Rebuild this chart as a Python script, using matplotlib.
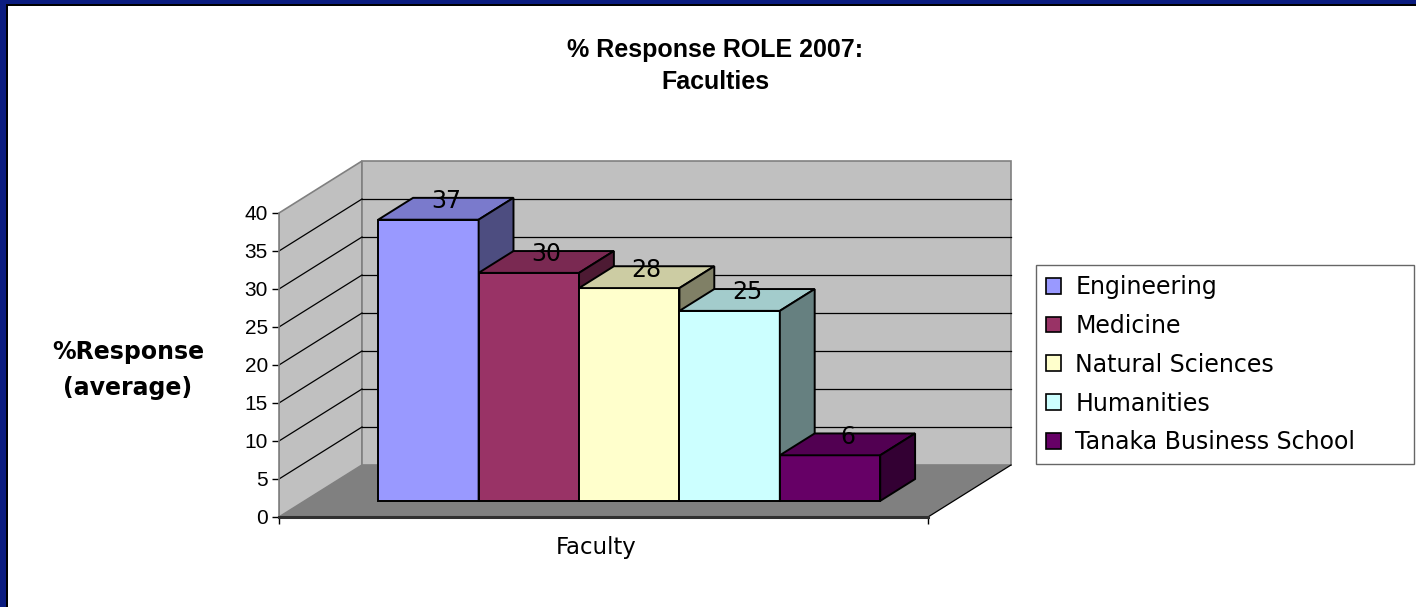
import numpy as np
import matplotlib
matplotlib.use("Agg")
from matplotlib import pyplot as plt
from matplotlib.patches import Polygon, Patch, Rectangle

# data
faculties = ["Engineering", "Medicine", "Natural Sciences", "Humanities", "Tanaka Business School"]
responses = [37, 30, 28, 25, 6]
front_cols = ["#9999FF", "#993366", "#FFFFCC", "#CCFFFF", "#660066"]
y_ticks = [0, 5, 10, 15, 20, 25, 30, 35, 40]

plt.rcParams['font.family'] = ['Liberation Sans', 'DejaVu Sans']
wide = ['DejaVu Sans']   # the reference text is drawn wide


def shade(hexcol, f):
    c = np.array(matplotlib.colors.to_rgb(hexcol)) * f
    return tuple(c)


W, H = 1416, 607
fig = plt.figure(figsize=(W / 100, H / 100), dpi=100)
fig.patch.set_facecolor("white")

# pixel scale of the chart
px_x = 100.4   # px per bar width
px_v = 7.6     # px per percentage point
ox_px, oy_px = 279, 517
xmax, vmax = 7.4, 47.5
ax = fig.add_axes([ox_px / W, (H - oy_px) / H, xmax * px_x / W, vmax * px_v / H])
ax.set_xlim(0, xmax)
ax.set_ylim(0, vmax)
ax.patch.set_visible(False)

# 3d depth (whole floor) in data units
DX = 83 / px_x
DV = 52 / px_v
floor_w = 649 / px_x
top = y_ticks[-1]

wall_c = "#C0C0C0"
edge_c = "#808080"
# left wall
ax.add_patch(Polygon([(0, 0), (0, top), (DX, top + DV), (DX, DV)], closed=True,
                     fc=wall_c, ec=edge_c, lw=1.2, zorder=1))
# back wall
ax.add_patch(Polygon([(DX, DV), (DX + floor_w, DV), (DX + floor_w, top + DV), (DX, top + DV)],
                     closed=True, fc=wall_c, ec=edge_c, lw=1.2, zorder=1))
# gridlines
for k in y_ticks[1:-1]:
    ax.plot([0, DX], [k, k + DV], color="black", lw=0.9, zorder=2)
    ax.plot([DX, DX + floor_w], [k + DV, k + DV], color="black", lw=0.9, zorder=2)
# floor
ax.add_patch(Polygon([(0, 0), (floor_w, 0), (floor_w + DX, DV), (DX, DV)], closed=True,
                     fc="#808080", ec="none", zorder=3))
ax.plot([floor_w, floor_w + DX], [0, DV], color="black", lw=0.9, zorder=3)

# bars
f_front, f_depth = 0.31, 0.42
ox, ov = f_front * DX, f_front * DV
bx, bv = f_depth * DX, f_depth * DV
gap = (floor_w - len(responses)) / 2
for i, (h, col) in enumerate(zip(responses, front_cols)):
    x0 = gap + i + ox
    x1 = x0 + 1
    front = [(x0, ov), (x1, ov), (x1, ov + h), (x0, ov + h)]
    topf = [(x0, ov + h), (x1, ov + h), (x1 + bx, ov + h + bv), (x0 + bx, ov + h + bv)]
    side = [(x1, ov), (x1 + bx, ov + bv), (x1 + bx, ov + bv + h), (x1, ov + h)]
    z = 5 + i
    ax.add_patch(Polygon(front, closed=True, fc=col, ec="black", lw=1.4, zorder=z))
    ax.add_patch(Polygon(topf, closed=True, fc=shade(col, 0.8), ec="black", lw=1.4, zorder=z))
    ax.add_patch(Polygon(side, closed=True, fc=shade(col, 0.5), ec="black", lw=1.4, zorder=z))
    ax.annotate(str(h), (x0 + 0.5 + bx / 2, ov + h + bv), xytext=(0, -7.5),
                textcoords="offset points", ha="center", va="baseline",
                fontsize=17, family=wide, color="black", zorder=20)

# axes / ticks
for s in ["top", "right"]:
    ax.spines[s].set_visible(False)
ax.spines["left"].set_bounds(0, top)
ax.spines["left"].set_color(edge_c)
ax.spines["left"].set_linewidth(1.2)
ax.spines["left"].set_zorder(4)
ax.spines["bottom"].set_bounds(0, floor_w)
ax.spines["bottom"].set_color("#303030")
ax.spines["bottom"].set_linewidth(2.2)
ax.spines["bottom"].set_zorder(4)
ax.set_yticks(y_ticks)
ax.tick_params(axis="y", direction="out", length=5, width=1, color="black",
               labelsize=15, pad=3)
ax.set_xticks([0, floor_w])
ax.set_xticklabels(["", ""])
ax.set_xticks([floor_w / 2 - 7 / px_x], ["Faculty"], minor=True)
ax.tick_params(axis="x", which="major", direction="out", length=5, width=1, color="black")
ax.tick_params(axis="x", which="minor", length=0, labelsize=16.5, pad=14)
for t in ax.get_xticklabels(minor=True):
    t.set_family(wide)

fig.text(128 / W, 1 - 370 / H, "%Response\n(average)", ha="center", va="center",
         fontsize=17, fontweight="bold", family=wide, linespacing=1.6)
fig.text(715 / W, 1 - 66 / H, "% Response ROLE 2007:\nFaculties", ha="center", va="center",
         fontsize=18, fontweight="bold", linespacing=1.45)

handles = [Patch(fc=c, ec="black", lw=1.2) for c in front_cols]
leg = fig.legend(handles, faculties, loc="upper left", mode="expand",
                 bbox_to_anchor=(1036 / W, 1 - 460 / H, 378 / W, 195 / H),
                 prop={"family": wide, "size": 17},
                 frameon=True, fancybox=False, edgecolor="#404040",
                 handlelength=0.65, handleheight=0.65, handletextpad=0.6,
                 labelspacing=0.63, borderpad=0.42, borderaxespad=0)
leg.get_frame().set_linewidth(1.0)

# blue frame on top / left edges
fig.patches.append(Rectangle((0, 1 - 4 / H), 1, 4 / H, transform=fig.transFigure,
                             fc="#0B1C80", ec="none", zorder=30))
fig.patches.append(Rectangle((0, 1 - 6 / H), 1, 2 / H, transform=fig.transFigure,
                             fc="black", ec="none", zorder=30))
fig.patches.append(Rectangle((0, 0), 6 / W, 1, transform=fig.transFigure,
                             fc="#0B1C80", ec="none", zorder=31))
fig.patches.append(Rectangle((6 / W, 0), 2 / W, 1 - 4 / H, transform=fig.transFigure,
                             fc="black", ec="none", zorder=31))

fig.savefig("out.png", dpi=100)
